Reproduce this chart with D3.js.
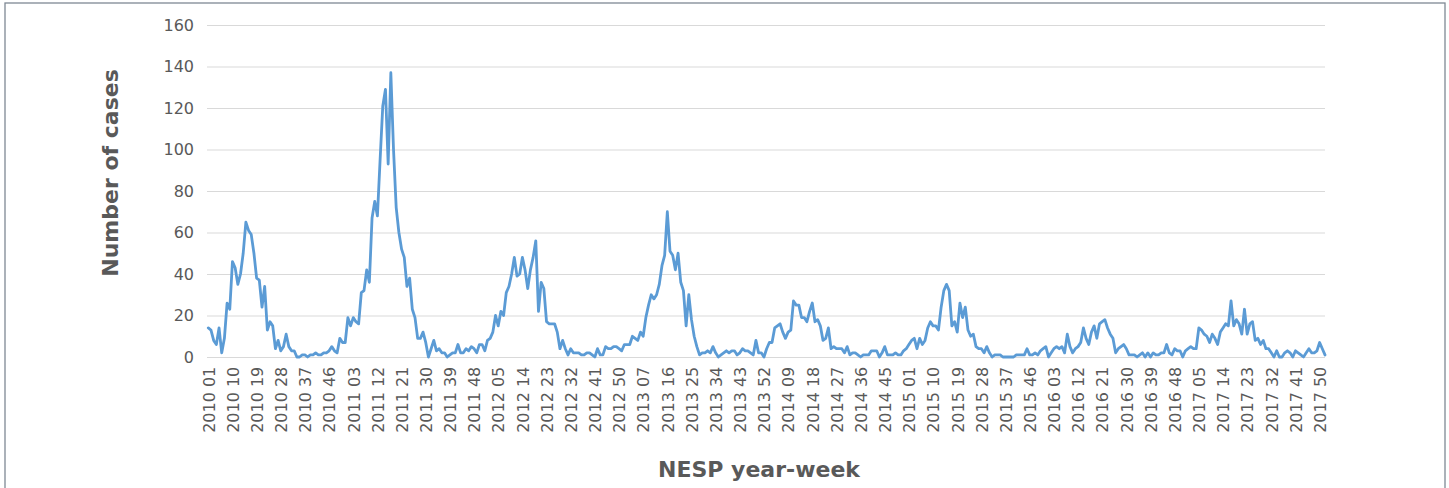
<!DOCTYPE html>
<html>
<head>
<meta charset="utf-8">
<script src="https://cdn.jsdelivr.net/npm/d3@7"></script>
<style>
  html, body { margin: 0; padding: 0; background: #ffffff; }
  svg { display: block; font-family: "DejaVu Sans", "Open Sans", sans-serif; }
</style>
</head>
<body>
<svg id="chart" width="1449" height="488"></svg>
<script>
// Weekly case counts, one array per NESP year (2014 has 53 weeks)
const years = [2010, 2011, 2012, 2013, 2014, 2015, 2016, 2017];
const weeksPerYear = [52, 52, 52, 52, 53, 52, 52, 52];

const cases2010 = [14,13,8,6,14,2,9,26,23,46, 43,35,40,50,65,61,59,50,38,37, 24,34,13,17,15,4,8,3,5,11, 5,3,3,0,0,1,1,0,1,1, 2,1,1,2,2,3,5,3,2,9, 7,7];
const cases2011 = [19,15,19,17,16,31,32,42, 36,67,75,68,95,121,129,93,137,100, 72,60,52,48,34,38,23,19,9,9, 12,7,0,4,8,3,4,2,2,0, 1,2,2,6,2,2,4,3,5,4, 2,6,6,3];
const cases2012 = [8,9,12,20,15,22, 20,31,34,40,48,39,40,48,42,33, 42,48,56,22,36,33,17,16,16,16, 12,4,8,4,1,4,2,2,2,1, 1,2,2,1,0,4,1,1,5,4, 4,5,5,4,3,6];
const cases2013 = [6,6,10,9, 8,12,10,19,25,30,28,30,35,44, 49,70,51,49,42,50,36,32,15,30, 18,10,5,1,2,2,3,2,5,2, 0,1,2,3,2,3,3,1,2,4, 3,3,2,1,8,2,2,0];
const cases2014 = [4,7, 7,14,15,16,12,9,12,13,27,25, 25,19,19,17,22,26,17,18,15,8, 9,14,4,5,4,4,4,2,5,1, 2,2,1,0,1,1,1,3,3,3, 0,2,5,1,1,1,2,1,1,3, 4];
const cases2015 = [6,8,9,4,9,6,8,14,17, 15,15,13,24,32,35,32,15,17,12, 26,19,24,13,10,11,5,4,4,2, 5,2,0,1,1,1,0,0,0,0, 0,1,1,1,1,4,1,1,2,1, 3,4,5];
const cases2016 = [0,2,4,5,4,5,2, 11,5,2,4,5,7,14,9,6,12, 15,9,16,17,18,14,11,9,2,4, 5,6,4,1,1,1,0,1,2,0, 2,0,2,1,1,2,2,6,2,1, 4,3,3,0,3];
const cases2017 = [4,5,4,4,14, 13,11,10,7,11,9,6,12,14,16, 15,27,15,18,16,11,23,11,16,17, 8,9,6,8,4,4,2,0,3,0, 0,2,3,2,0,3,2,1,0,2, 4,2,2,3,7,4,1];

const yTicks = [0, 20, 40, 60, 80, 100, 120, 140, 160];
const labelStep = 9;   // one category label every 9 weeks

// Category names "YYYY WW"
const categories = [];
years.forEach((yr, k) => {
  for (let w = 1; w <= weeksPerYear[k]; w++) categories.push(yr + " " + String(w).padStart(2, "0"));
});
const cases = [].concat(cases2010, cases2011, cases2012, cases2013, cases2014, cases2015, cases2016, cases2017);
const tickLabels = categories.filter((d, i) => i % labelStep === 0);
const series = categories.map((c, i) => ({ week: c, value: cases[i] }));

const svg = d3.select("#chart");
const textColor = "#595959";

// Outer frame
svg.append("rect")
  .attr("x", 5).attr("y", 3)
  .attr("width", 1440).attr("height", 520)
  .attr("fill", "none")
  .attr("stroke", "#7f8994")
  .attr("stroke-width", 1.3);

const x = d3.scalePoint().domain(categories).range([208.3, 1325]);
const y = d3.scaleLinear().domain([0, 160]).range([357, 25]);

// Horizontal gridlines + value labels
const yAxis = d3.axisLeft(y)
  .tickValues(yTicks)
  .tickSize(-(1325 - 207))
  .tickPadding(13)
  .tickFormat(d3.format("d"));
const gy = svg.append("g").attr("transform", "translate(207,0)").call(yAxis);
gy.select(".domain").remove();
gy.selectAll(".tick line").attr("stroke", "#d9d9d9").attr("stroke-width", 1);
gy.selectAll(".tick text")
  .attr("fill", textColor)
  .attr("font-size", 16)
  .attr("font-family", "DejaVu Sans, sans-serif");

// Category labels, rotated
const xAxis = d3.axisBottom(x).tickValues(tickLabels).tickSize(0).tickPadding(0);
const gx = svg.append("g").attr("transform", "translate(0,357)").call(xAxis);
gx.select(".domain").remove();
gx.selectAll(".tick text")
  .attr("fill", textColor)
  .attr("font-size", 16)
  .attr("font-family", "DejaVu Sans, sans-serif")
  .attr("text-anchor", "end")
  .attr("transform", "translate(0,9.7) rotate(-90)")
  .attr("x", 0).attr("y", 0)
  .attr("dy", "0.36em");

// Case line
const line = d3.line()
  .x(d => x(d.week))
  .y(d => y(d.value));
svg.append("path")
  .datum(series)
  .attr("d", line)
  .attr("fill", "none")
  .attr("stroke", "#5b9bd5")
  .attr("stroke-width", 2.8)
  .attr("stroke-linejoin", "round")
  .attr("stroke-linecap", "round");

// Axis titles
svg.append("text")
  .attr("x", 759).attr("y", 477)
  .attr("text-anchor", "middle")
  .attr("font-size", 22).attr("font-weight", "bold")
  .attr("fill", textColor)
  .text("NESP year-week");

svg.append("text")
  .attr("transform", "translate(118,173) rotate(-90)")
  .attr("text-anchor", "middle")
  .attr("font-size", 22).attr("font-weight", "bold")
  .attr("fill", textColor)
  .text("Number of cases");
</script>
</body>
</html>
